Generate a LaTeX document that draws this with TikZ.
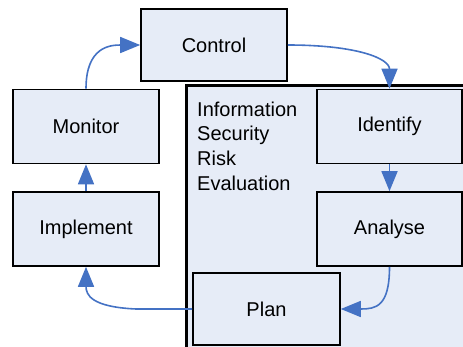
\documentclass[tikz,border=0pt]{standalone}
\usepackage{fontspec}
\setmainfont{Liberation Sans}
\usetikzlibrary{arrows.meta}
\definecolor{boxfill}{RGB}{230,236,247}
\definecolor{arrblue}{RGB}{68,114,196}
\begin{document}
\begin{tikzpicture}[x=1bp,y=-1bp,
  stagebox/.style={draw=black,line width=1.6bp,fill=boxfill,minimum width=146bp,minimum height=74bp,inner sep=0pt,font=\fontsize{20bp}{24bp}\selectfont},
  arr/.style={draw=arrblue,line width=1.6bp,-{Triangle[length=20bp,width=16bp]}}]
\useasboundingbox (0,0) rectangle (463,346);
% region
\fill[boxfill] (186.5,85.5) rectangle (470,350);
\draw[line width=3.2bp,line cap=rect] (186.5,350) -- (186.5,85.5) -- (470,85.5);
\node[anchor=north west,align=left,inner sep=0pt,font=\fontsize{20bp}{24.7bp}\selectfont] (title) at (197,101.5) {Information\\Security\\Risk\\Evaluation};
% boxes
\node[stagebox,minimum height=72bp] (ctrl) at (214,45) {Control};
\node[stagebox] (mon) at (86,126.5) {Monitor};
\node[stagebox] (impl) at (86,229) {Implement};
\node[stagebox,minimum width=145bp] (ident) at (389.5,126.5) {Identify};
\node[stagebox,minimum width=145bp] (anal) at (389.5,229) {Analyse};
\node[stagebox,minimum width=147bp,minimum height=72bp] (plan) at (266.5,309) {Plan};
% connectors
\draw[arr] (mon.north) .. controls +(0,-42) and +(-30,0) .. (ctrl.west);
\draw[arr] (ctrl.east) .. controls +(70,0) and +(0,-30) .. (ident.north);
\draw[arr] (ident.south) -- (anal.north);
\draw[arr] (anal.south) .. controls +(0,40) and +(35,0) .. (plan.east);
\draw[arr] (plan.west) -- ++(-56,0) .. controls +(-45,-2) and +(0,28) .. (impl.south);
\draw[arr] (impl.north) -- (mon.south);
\end{tikzpicture}
\end{document}
